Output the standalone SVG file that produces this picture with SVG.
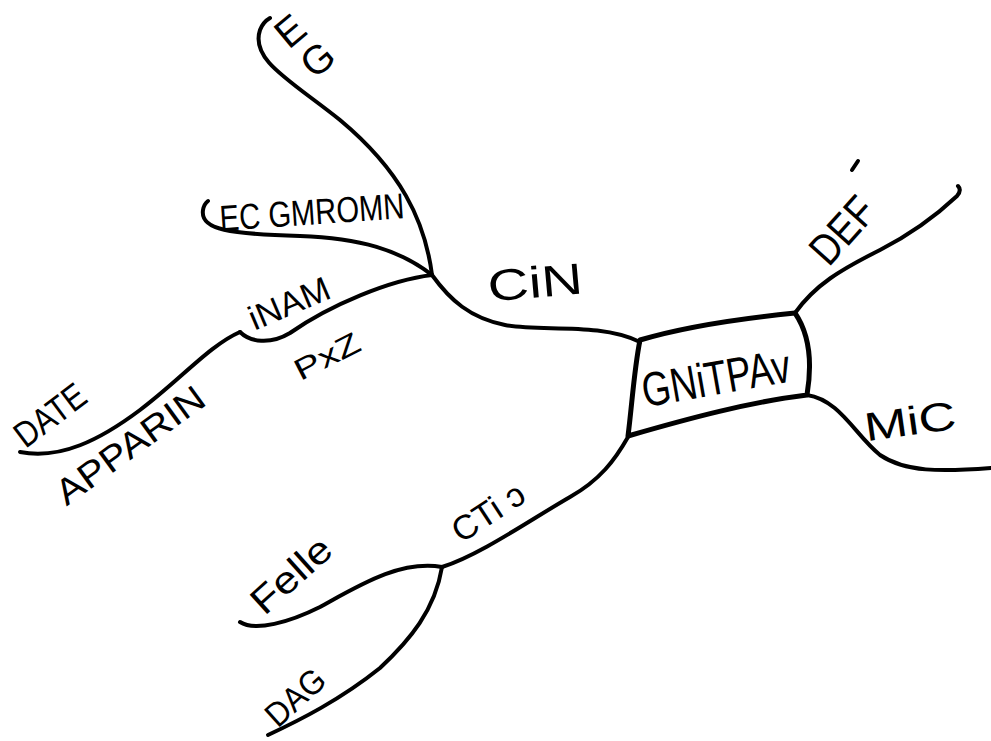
<svg xmlns="http://www.w3.org/2000/svg" width="991" height="741" viewBox="0 0 991 741">
<style>
.ln{fill:none;stroke:#000;stroke-width:4;stroke-linecap:round;stroke-linejoin:round}
.bx{fill:none;stroke:#000;stroke-width:5;stroke-linejoin:round}
.t{font-family:"Liberation Sans",Arial,sans-serif;fill:#000;text-anchor:middle;dominant-baseline:central}
</style>
<rect width="991" height="741" fill="#fff"/>
<g id="connectors">
<path class="ln" d="M795,313 C815,285 840,270 880,250 C915,232 940,212 957,196 Q962,190 958,186"/>
<path class="ln" d="M807,395 C840,400 855,435 880,455 C905,472 940,472 991,468"/>
<path class="ln" d="M640,342 C600,322 540,332 505,325 C470,318 450,300 432,275"/>
<path class="ln" d="M432,275 C425,220 400,170 340,120 C290,80 250,60 260,30 Q263,22 270,18"/>
<path class="ln" d="M432,275 C400,250 360,238 300,236 C230,234 200,230 203,210 Q204,204 208,201"/>
<path class="ln" d="M432,275 C390,280 330,305 290,333 C270,345 250,342 240,332"/>
<path class="ln" d="M240,332 C210,345 180,380 140,410 C100,440 60,460 20,452"/>
<path class="ln" d="M628,437 C615,460 600,480 570,497 C530,520 480,555 442,567"/>
<path class="ln" d="M442,567 C400,560 360,585 320,607 C290,622 255,632 240,622"/>
<path class="ln" d="M442,567 C435,610 410,640 380,668 C340,700 300,720 268,735"/>
</g>
<g id="center">
<path class="bx" d="M640,340 C690,325 745,318 795,313 C810,335 812,365 807,395 C750,402 690,418 628,436 C632,405 634,370 640,340 Z"/>
<text class="t" transform="translate(716,378) rotate(-10)" font-size="48" textLength="150" lengthAdjust="spacingAndGlyphs">GNiTPAv</text>
</g>
<g id="def">
<text class="t" transform="translate(842,230) rotate(-48)" font-size="44" textLength="74" lengthAdjust="spacingAndGlyphs">DEF</text>
<path class="ln" d="M852,170 L858,161"/>
</g>
<g id="mic">
<text class="t" transform="translate(910,421) rotate(-8)" font-size="40" textLength="92" lengthAdjust="spacingAndGlyphs">MiC</text>
</g>
<g id="cin">
<text class="t" transform="translate(535,282) rotate(-5)" font-size="44" textLength="95" lengthAdjust="spacingAndGlyphs">CiN</text>
</g>
<g id="eg">
<text class="t" font-size="40" x="302 330" y="36 66" rotate="-40 -40">EG</text>
</g>
<g id="ecgmromn">
<text class="t" transform="translate(312,212) rotate(-4)" font-size="36" textLength="185" lengthAdjust="spacingAndGlyphs">EC GMROMN</text>
</g>
<g id="inam">
<text class="t" transform="translate(289,303) rotate(-23)" font-size="34" textLength="85" lengthAdjust="spacingAndGlyphs">iNAM</text>
</g>
<g id="pxz">
<text class="t" transform="translate(327,356) rotate(-27)" font-size="30" textLength="70" lengthAdjust="spacingAndGlyphs">PxZ</text>
</g>
<g id="date">
<text class="t" transform="translate(50,415) rotate(-37)" font-size="36" textLength="80" lengthAdjust="spacingAndGlyphs">DATE</text>
</g>
<g id="apparin">
<text class="t" transform="translate(130,445) rotate(-36)" font-size="36" textLength="175" lengthAdjust="spacingAndGlyphs">APPARIN</text>
</g>
<g id="ctio">
<text class="t" transform="translate(488,512) rotate(-33)" font-size="34" textLength="80" lengthAdjust="spacingAndGlyphs">CTi ɔ</text>
</g>
<g id="felle">
<text class="t" transform="translate(291,575) rotate(-42)" font-size="38" textLength="95" lengthAdjust="spacingAndGlyphs">Felle</text>
</g>
<g id="dag">
<text class="t" transform="translate(295,697) rotate(-42)" font-size="34" textLength="68" lengthAdjust="spacingAndGlyphs">DAG</text>
</g>
</svg>
